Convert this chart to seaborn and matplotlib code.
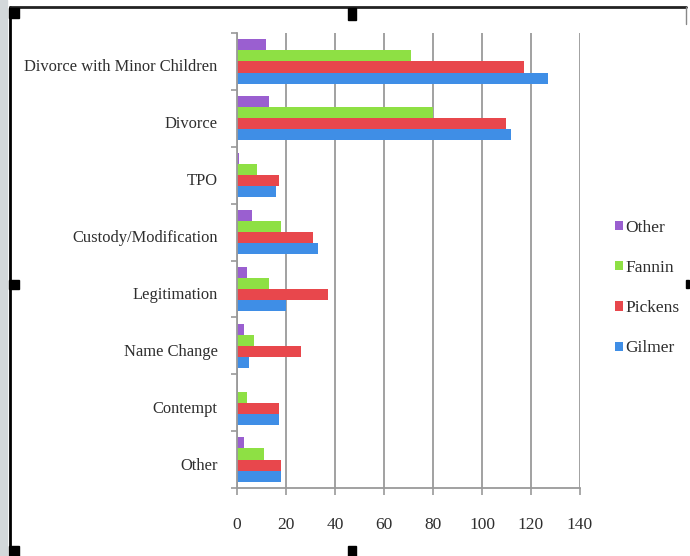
import matplotlib
matplotlib.use("Agg")
import matplotlib.pyplot as plt
import matplotlib.transforms as mtransforms
import seaborn as sns
import pandas as pd
from matplotlib.patches import Rectangle

categories = ["Divorce with Minor Children", "Divorce", "TPO", "Custody/Modification",
              "Legitimation", "Name Change", "Contempt", "Other"]
series = ["Other", "Fannin", "Pickens", "Gilmer"]
other_vals = [12, 13, 1, 6, 4, 3, 0, 3]
fannin_vals = [71, 80, 8, 18, 13, 7, 4, 11]
pickens_vals = [117, 110, 17, 31, 37, 26, 17, 18]
gilmer_vals = [127, 112, 16, 33, 20, 5, 17, 18]
x_ticks = [0, 20, 40, 60, 80, 100, 120, 140]

colors = {"Other": "#9a5fd0", "Fannin": "#8ee044", "Pickens": "#e8474c", "Gilmer": "#3f8ee6"}

rows = []
for name, vals in zip(series, [other_vals, fannin_vals, pickens_vals, gilmer_vals]):
    for c, v in zip(categories, vals):
        rows.append({"Category": c, "County": name, "Count": v})
df = pd.DataFrame(rows)

sns.set_style("white")
plt.rcParams["font.family"] = ["Liberation Serif", "DejaVu Serif"]

fig = plt.figure(figsize=(6.9, 5.56), dpi=100)
ax = fig.add_axes([237 / 690, 68 / 556, (580 - 237) / 690, (488 - 33) / 556])

sns.barplot(data=df, y="Category", x="Count", hue="County", hue_order=series,
            order=categories, palette=colors, orient="h", width=0.78,
            saturation=1, ax=ax, legend=True, edgecolor="none")

ax.set_xlim(0, 140)
ax.set_ylim(len(categories) - 0.5, -0.5)
ax.set_xticks(x_ticks)
ax.set_xticklabels([str(t) for t in x_ticks])
ax.xaxis.grid(True, color="#9a9a9a", linewidth=1.3)
ax.set_axisbelow(True)
ax.set_xlabel("")
ax.set_ylabel("")
for s in ["top", "right"]:
    ax.spines[s].set_visible(False)
for s in ["left", "bottom"]:
    ax.spines[s].set_color("#9a9a9a")
    ax.spines[s].set_linewidth(1.3)

ax.tick_params(axis="x", length=5, color="#9a9a9a", width=1.2, pad=16,
               labelsize=12.5, labelcolor="#2e2e2e", direction="out", bottom=True)
ax.tick_params(axis="y", length=0, pad=14, labelsize=11.9, labelcolor="#2e2e2e")
# minor ticks at category boundaries on y axis
ax.set_yticks([i + 0.5 for i in range(-1, len(categories))], minor=True)
ax.tick_params(axis="y", which="minor", length=4, color="#9a9a9a", width=1.2, left=True)

shift = mtransforms.ScaledTranslation(0, -4 / 100, fig.dpi_scale_trans)
for lbl in ax.get_yticklabels():
    lbl.set_transform(lbl.get_transform() + shift)

leg = ax.legend(loc="center left", bbox_to_anchor=(615 / 690, 1 - 288 / 556),
                bbox_transform=fig.transFigure, frameon=False, fontsize=12.5,
                borderaxespad=0, borderpad=0,
                handlelength=0.45, handleheight=0.45, handletextpad=0.15,
                labelspacing=1.4, labelcolor="#2e2e2e")

# screenshot frame decorations
fig.patches.append(Rectangle((0, 0), 7 / 690, 1, transform=fig.transFigure,
                             color="#d3d8da", zorder=0))
fig.add_artist(plt.Line2D([9.5 / 690, 9.5 / 690], [0, 1 - 7 / 556], transform=fig.transFigure,
                          color="black", linewidth=2))
fig.add_artist(plt.Line2D([9.5 / 690, 686 / 690], [1 - 7 / 556, 1 - 7 / 556],
                          transform=fig.transFigure, color="#222222", linewidth=2))
fig.add_artist(plt.Line2D([686 / 690, 686 / 690], [1 - 7 / 556, 1 - 24 / 556],
                          transform=fig.transFigure, color="#888888", linewidth=1))
for (hx, hy, w, h) in [(9, 8, 10, 10), (348, 8, 8, 12), (9, 280, 10, 9),
                       (9, 546, 10, 10), (348, 546, 8, 10), (686, 280, 3, 8)]:
    fig.patches.append(Rectangle((hx / 690, 1 - (hy + h) / 556), w / 690, h / 556,
                                 transform=fig.transFigure, color="black", zorder=5))

fig.savefig("out.png", dpi=100)
